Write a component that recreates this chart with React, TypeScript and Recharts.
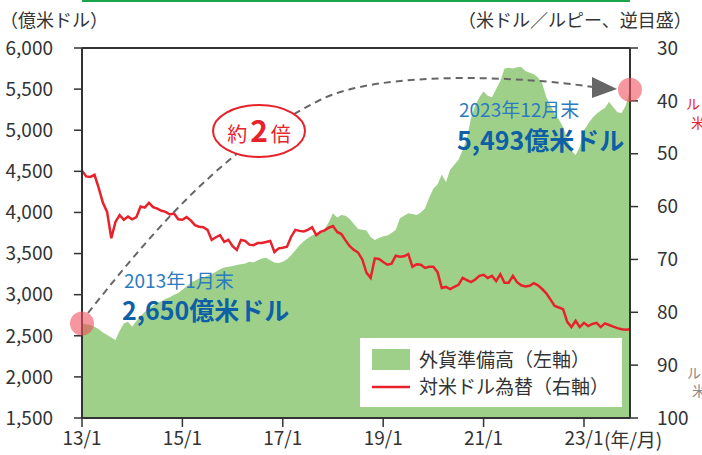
import { ComposedChart, Area, Line, XAxis, YAxis, ReferenceDot, ReferenceLine } from "recharts";

// India FX reserves (100m USD), monthly from 2013/1 to 2023/12
const reserves = [
  2650, 2640, 2630, 2610, 2580, 2540, 2510, 2480, 2450, 2560, 2650, 2670, // 2013
  2610, 2680, 2740, 2790, 2830, 2870, 2900, 2920, 2950, 2970, 3000, 3020, // 2014
  3060, 3100, 3150, 3170, 3200, 3210, 3230, 3250, 3280, 3310, 3330, 3340, // 2015
  3350, 3360, 3370, 3380, 3400, 3390, 3420, 3440, 3450, 3420, 3390, 3385, // 2016
  3400, 3430, 3480, 3540, 3600, 3650, 3690, 3720, 3740, 3760, 3800, 3880, // 2017
  3990, 3940, 3970, 3960, 3920, 3860, 3800, 3790, 3780, 3700, 3665, 3690, // 2018
  3710, 3720, 3750, 3790, 3930, 3960, 3990, 3980, 3970, 4000, 4050, 4180, // 2019
  4290, 4340, 4460, 4370, 4520, 4580, 4640, 4760, 4900, 5150, 5300, 5400, // 2020
  5470, 5420, 5400, 5500, 5600, 5750, 5760, 5750, 5765, 5770, 5720, 5700, // 2021
  5680, 5640, 5570, 5400, 5300, 5200, 5130, 5040, 4900, 4750, 4700, 4800, // 2022
  5000, 5080, 5150, 5200, 5240, 5270, 5345, 5280, 5220, 5210, 5300, 5493, // 2023
];

// rupees per US dollar (right axis, reversed)
const usdInr = [
  53.2, 54.3, 54.4, 54.0, 56.5, 59.3, 61.0, 66.0, 62.9, 61.6, 62.5, 61.9,
  62.4, 62.0, 60.0, 60.2, 59.3, 60.1, 60.4, 60.8, 61.0, 61.5, 61.3, 62.4,
  62.5, 62.0, 62.6, 63.5, 63.8, 63.9, 64.4, 66.3, 65.8, 65.4, 66.7, 66.3,
  67.5, 68.2, 66.3, 66.5, 67.2, 67.3, 66.9, 66.9, 66.7, 66.5, 68.6, 67.9,
  67.8, 67.6, 65.7, 64.4, 64.6, 64.7, 64.4, 63.9, 65.4, 64.8, 64.5, 64.0,
  63.7, 64.8, 65.2, 66.4, 67.5, 68.2, 68.7, 70.0, 72.5, 73.5, 69.8, 69.9,
  70.5, 71.0, 70.8, 69.3, 69.5, 69.4, 69.0, 71.4, 70.9, 71.0, 71.6, 71.4,
  71.4, 72.4, 75.4, 75.2, 75.6, 75.2, 74.8, 73.5, 73.9, 74.3, 73.8, 73.1,
  72.9, 73.5, 73.1, 74.1, 72.8, 74.4, 74.4, 73.1, 74.3, 74.9, 75.1, 75.0,
  74.5, 74.9, 75.6, 76.4, 77.6, 78.8, 79.1, 79.4, 81.8, 82.8, 81.6, 82.8,
  82.0, 82.6, 82.2, 82.0, 82.8, 82.1, 82.4, 82.7, 83.0, 83.2, 83.3, 83.2,
];

const xTicks = [0, 24, 48, 72, 96, 120];
const xTickLabels = ["13/1", "15/1", "17/1", "19/1", "21/1", "23/1"];
const leftTicks = [1500, 2000, 2500, 3000, 3500, 4000, 4500, 5000, 5500, 6000];
const rightTicks = [30, 40, 50, 60, 70, 80, 90, 100];

const startValue = 2650;
const endValue = 5493;

const data = reserves.map((v, i) => ({ i, reserves: v, inr: usdInr[i] }));

const AXIS = "#333";
const GREEN = "#9fd08a";
const RED = "#e8222a";
const FONT = "'Noto Sans CJK JP', 'Noto Sans', sans-serif";

function Overlay() {
  return (
    <svg
      width={702}
      height={455}
      style={{ position: "absolute", left: 0, top: 0, pointerEvents: "none" }}
    >
      <rect x={82} y={0} width={548} height={2} fill="#1aa64b" />
      <text x={0} y={27} fontSize={18} fill={AXIS}>（億米ドル）</text>
      <text x={458} y={27} fontSize={18} fill={AXIS}>（米ドル／ルピー、逆目盛）</text>

      {/* dashed arc with arrow */}
      <path
        d="M 88 313 C 150 235, 220 150, 320 100 C 380 70, 520 76, 593 87"
        fill="none"
        stroke="#666"
        strokeWidth={2}
        strokeDasharray="7 5"
      />
      <polygon points="592,77 617,89 592,98" fill="#666" />

      <ellipse cx={259} cy={131} rx={46} ry={26} fill="#fff" stroke={RED} strokeWidth={2} />
      <text x={259} y={142} textAnchor="middle" fill={RED}>
        <tspan fontSize={20}>約</tspan>
        <tspan fontSize={30} fontWeight="bold" dx={3}>2</tspan>
        <tspan fontSize={20} dx={3}>倍</tspan>
      </text>

      <text x={124} y={288} fontSize={19} fill="#2b7bbf">2013年1月末</text>
      <text x={122} y={320} fontSize={25} fontWeight="bold" fill="#0d5fa6">2,650億米ドル</text>
      <text x={459} y={117} fontSize={19} fill="#2b7bbf">2023年12月末</text>
      <text x={457} y={150} fontSize={25} fontWeight="bold" fill="#0d5fa6">5,493億米ドル</text>

      {/* legend */}
      <rect x={360} y={338} width={262} height={69} fill="#fff" />
      <rect x={372} y={349} width={38} height={21} fill={GREEN} />
      <line x1={372} x2={410} y1={387} y2={387} stroke={RED} strokeWidth={2.5} />
      <text x={419} y={367} fontSize={19} fill={AXIS}>外貨準備高（左軸）</text>
      <text x={419} y={394} fontSize={19} fill={AXIS}>対米ドル為替（右軸）</text>

      <text x={604} y={447} fontSize={19} fill={AXIS}>(年/月)</text>

      {/* side notes, cut off at the right edge as in the original */}
      <text x={686} y={109} fontSize={14} fill={RED}>ルピー高</text>
      <text x={691} y={128} fontSize={14} fill={RED}>米ドル安</text>
      <text x={687} y={378} fontSize={14} fill="#888">ルピー安</text>
      <text x={692} y={396} fontSize={14} fill="#888">米ドル高</text>
    </svg>
  );
}

export default function App() {
  return (
    <div
      style={{
        position: "absolute",
        left: 0,
        top: 0,
        width: 702,
        height: 455,
        background: "#fff",
        fontFamily: FONT,
      }}
    >
      <ComposedChart
        width={702}
        height={455}
        data={data}
        margin={{ top: 48, right: 0, bottom: 0, left: 0 }}
      >
        <XAxis
          dataKey="i"
          type="number"
          domain={[0, 131]}
          ticks={xTicks}
          tickFormatter={(v) => xTickLabels[xTicks.indexOf(v)] ?? ""}
          height={37}
          tickSize={9}
          tickMargin={5}
          tick={{ fill: AXIS, fontSize: 19 }}
          axisLine={{ stroke: AXIS, strokeWidth: 2 }}
          tickLine={{ stroke: AXIS, strokeWidth: 1.5 }}
        />
        <YAxis
          yAxisId="left"
          domain={[1500, 6000]}
          ticks={leftTicks}
          tickFormatter={(v) => v.toLocaleString("en-US")}
          width={82}
          tickSize={8}
          tickMargin={21}
          tick={{ fill: AXIS, fontSize: 19 }}
          axisLine={{ stroke: AXIS, strokeWidth: 2 }}
          tickLine={{ stroke: AXIS, strokeWidth: 1.5 }}
        />
        <YAxis
          yAxisId="right"
          orientation="right"
          reversed
          domain={[30, 100]}
          ticks={rightTicks}
          width={72}
          tickSize={8}
          tickMargin={19}
          tick={{ fill: AXIS, fontSize: 19 }}
          axisLine={{ stroke: AXIS, strokeWidth: 2 }}
          tickLine={{ stroke: AXIS, strokeWidth: 1.5 }}
        />
        <Area
          yAxisId="left"
          type="linear"
          dataKey="reserves"
          stroke="none"
          fill={GREEN}
          fillOpacity={1}
          baseValue={1500}
          isAnimationActive={false}
        />
        <Line
          yAxisId="right"
          type="linear"
          dataKey="inr"
          stroke={RED}
          strokeWidth={2.5}
          dot={false}
          isAnimationActive={false}
        />
        <ReferenceLine yAxisId="left" y={6000} stroke={AXIS} strokeWidth={2} />
        <ReferenceDot
          yAxisId="left"
          x={0}
          y={startValue}
          r={12}
          fill="#f0505e"
          fillOpacity={0.6}
          stroke="none"
        />
        <ReferenceDot
          yAxisId="left"
          x={131}
          y={endValue}
          r={12}
          fill="#f0505e"
          fillOpacity={0.6}
          stroke="none"
        />
      </ComposedChart>
      <Overlay />
    </div>
  );
}
